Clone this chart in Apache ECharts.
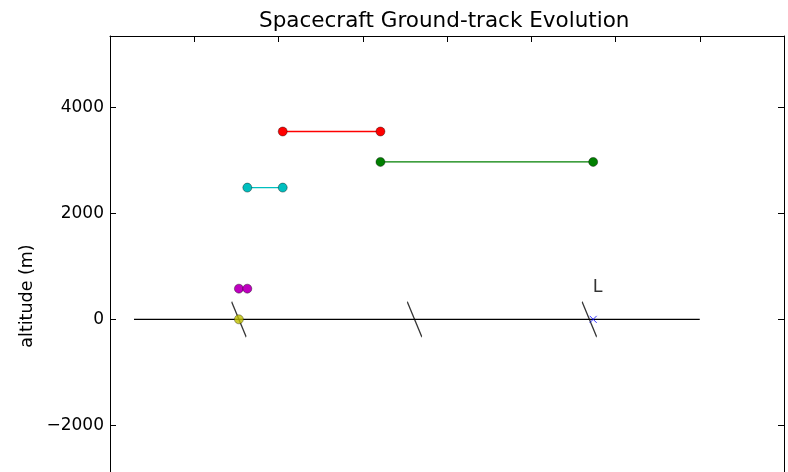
<!DOCTYPE html>
<html>
<head>
<meta charset="utf-8">
<script src="https://cdn.jsdelivr.net/npm/echarts@6/dist/echarts.min.js"></script>
<style>html,body{margin:0;padding:0;background:#fff;width:788px;height:472px;overflow:hidden}#c{width:788px;height:560px}</style>
</head>
<body>
<div id="c"></div>
<script>
// ---- data ----
const titleText = 'Spacecraft Ground-track Evolution';
const yLabelText = 'altitude (m)';
const baseline = [[0.285, 0], [7.0, 0]];
const olivePoint = [[1.53, 0]];
const magentaSeg = [[1.53, 580], [1.63, 580]];
const cyanSeg = [[1.63, 2490], [2.05, 2490]];
const redSeg = [[2.05, 3550], [3.21, 3550]];
const greenSeg = [[3.21, 2975], [5.735, 2975]];
const landingPoint = [[5.735, 0]];
const breakMarks = [[1.53, 0], [3.615, 0], [5.69, 0]];
const labelPoint = [[5.73, 500]];
const labelText = 'L';
const xRange = [0, 8];
const yRange = [-4000, 5355];

const FONT = 'DejaVu Sans';
const chart = echarts.init(document.getElementById('c'), null, {renderer: 'canvas'});

function dotSeries(data, color) {
  return {
    type: 'line', data: data, symbol: 'circle', symbolSize: 9, showSymbol: true,
    lineStyle: {color: color, width: 1.3},
    itemStyle: {color: color, borderColor: 'rgba(0,0,0,0.55)', borderWidth: 0.7},
    z: 5
  };
}

const axisCommon = {
  axisLine: {show: true, onZero: false, lineStyle: {color: '#000', width: 1}},
  axisTick: {show: true, inside: true, length: 6, lineStyle: {color: '#000', width: 1}},
  splitLine: {show: false}
};

chart.setOption({
  animation: false,
  backgroundColor: '#fff',
  title: {
    text: titleText, left: 259, top: 10, padding: 0,
    textStyle: {fontFamily: FONT, fontSize: 21.5, fontWeight: 'normal', color: '#000'}
  },
  grid: {left: 110, right: 4, top: 36, bottom: 29},
  graphic: [{
    type: 'text', x: 27.5, y: 296, rotation: Math.PI / 2,
    style: {text: yLabelText, align: 'center', verticalAlign: 'middle',
      font: '17.5px "DejaVu Sans"', fill: '#000'}
  }],
  xAxis: [
    Object.assign({type: 'value', min: xRange[0], max: xRange[1], interval: 1, position: 'bottom',
      axisLabel: {show: false}}, axisCommon),
    Object.assign({type: 'value', min: xRange[0], max: xRange[1], interval: 1, position: 'top',
      axisLabel: {show: false}}, axisCommon)
  ],
  yAxis: [
    Object.assign({type: 'value', min: yRange[0], max: yRange[1], interval: 2000, position: 'left',
      axisLabel: {show: true, showMaxLabel: false, margin: 6, color: '#000',
        fontFamily: FONT, fontSize: 17,
        formatter: v => String(v).replace('-', '\u2212')}}, axisCommon),
    Object.assign({type: 'value', min: yRange[0], max: yRange[1], interval: 2000, position: 'right',
      axisLabel: {show: false}}, axisCommon)
  ],
  series: [
    {type: 'line', data: baseline, symbol: 'none', lineStyle: {color: '#000', width: 1.4}, z: 2},
    {type: 'scatter', data: breakMarks, symbol: 'path://M0,0L14.5,35', symbolSize: [14.5, 35],
      itemStyle: {color: 'rgba(0,0,0,0)', borderColor: '#000', borderWidth: 1.5}, z: 3},
    {type: 'scatter', data: olivePoint, symbol: 'circle', symbolSize: 9,
      itemStyle: {color: '#bfbf00', borderColor: 'rgba(0,0,0,0.6)', borderWidth: 0.7}, z: 6},
    dotSeries(magentaSeg, '#bf00bf'),
    dotSeries(cyanSeg, '#00bfbf'),
    dotSeries(redSeg, '#ff0000'),
    dotSeries(greenSeg, '#007f00'),
    {type: 'scatter', data: landingPoint, symbol: 'path://M0,0L1,1M1,0L0,1', symbolSize: 7,
      itemStyle: {color: 'rgba(0,0,0,0)', borderColor: '#0000ff', borderWidth: 1}, z: 6},
    {type: 'scatter', data: labelPoint, symbolSize: 0, silent: true,
      label: {show: true, position: [0, 0], formatter: labelText, align: 'left', verticalAlign: 'bottom',
        offset: [0, 4], color: '#000', fontFamily: FONT, fontSize: 17.5}, z: 7}
  ]
});
</script>
</body>
</html>
